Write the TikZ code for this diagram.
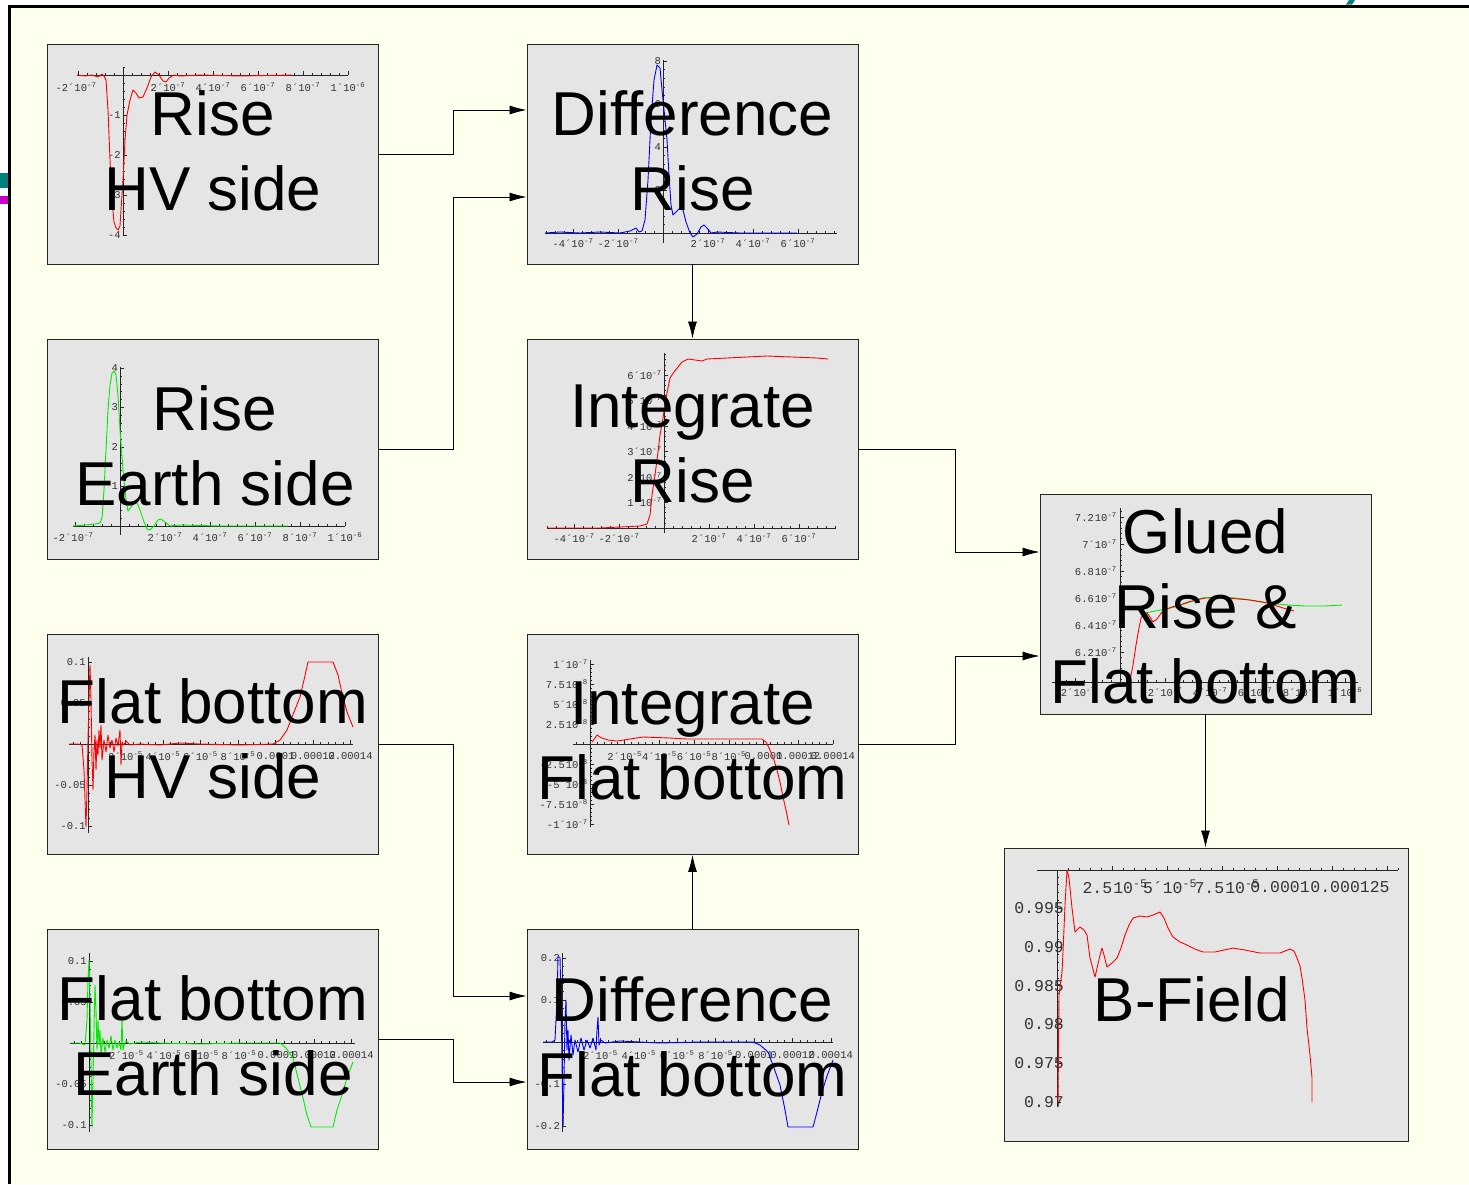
\documentclass[tikz,border=0pt]{standalone}
\usepackage{fontspec}
\setmainfont{Liberation Sans}
\newfontfamily\tickfont{Liberation Mono}
\usetikzlibrary{arrows.meta}
\definecolor{cream}{RGB}{255,255,238}
\definecolor{boxgray}{RGB}{229,229,229}
\definecolor{dteal}{RGB}{0,128,128}
\definecolor{dmag}{RGB}{204,0,204}
\definecolor{cred}{RGB}{255,0,0}
\definecolor{cgreen}{RGB}{0,235,0}
\definecolor{cblue}{RGB}{0,0,255}
\newcommand\sci[2]{#1´10\textsuperscript{#2}}
\newcommand\scd[2]{#1\kern1pt 10\textsuperscript{#2}}
\begin{document}
\begin{tikzpicture}[x=1pt,y=-1pt,
  box/.style={draw=black!85, line width=0.9pt, fill=boxgray, inner sep=0pt, minimum width=331pt, minimum height=220pt},
  big/.style={font=\fontsize{62}{75}\selectfont, align=center, inner sep=0pt},
  arr/.style={-{Latex[length=17pt,width=9pt]}, line width=0.8pt},
  ax/.style={line width=0.8pt, black!85},
  tk/.style={line width=0.6pt, black!85},
  tl/.style={font=\tickfont\fontsize{10.5}{11}\selectfont, text=black!80, inner sep=0pt},
  tlb/.style={font=\tickfont\fontsize{16.5}{17}\selectfont, text=black!80, inner sep=0pt},
  crv/.style={line width=0.9pt, line join=round}]
\useasboundingbox (0,0) rectangle (1469,1184);
\fill[white] (0,0) rectangle (1469,1184);
\fill[cream] (9,6) rectangle (1469,1184);
\draw[line width=3pt, line join=miter] (9,1184) -- (9,6) -- (1469,6);
\fill[dteal] (0,173) rectangle (7.5,188);
\fill[dmag] (0,196) rectangle (7.5,204);
\fill[dteal] (1346,4.5) -- (1352,4.5) -- (1355,0) -- (1349,0) -- cycle;

% boxes
\node[box] (rhv) at (213,154) {};
\node[box] (drise) at (692.5,154) {};
\node[box] (rearth) at (213,449) {};
\node[box] (irise) at (692.5,449) {};
\node[box] (fhv) at (213,744.5) {};
\node[box] (iflat) at (692.5,744.5) {};
\node[box] (fearth) at (213,1039) {};
\node[box] (dflat) at (692.5,1039) {};
\node[box] (glued) at (1205.5,604) {};
\node[box, minimum width=404pt, minimum height=293pt] (bfield) at (1206,994.5) {};

% connectors
\draw[arr] (rhv.east) -- ++(74,0) |- ([yshift=44pt]drise.west);
\draw[arr] (rearth.east) -- ++(74,0) |- ([yshift=-43pt]drise.west);
\draw[arr] (drise.south) -- (irise.north);
\draw[arr] (irise.east) -- ++(97,0) |- ([yshift=52pt]glued.west);
\draw[arr] (iflat.east) -- ++(97,0) |- ([yshift=-52pt]glued.west);
\draw[arr] (glued.south) -- (glued.south |- bfield.north);
\draw[arr] (fhv.east) -- ++(74,0) |- ([yshift=43pt]dflat.west);
\draw[arr] (fearth.east) -- ++(74,0) |- ([yshift=-43pt]dflat.west);
\draw[arr] (dflat.north) -- (iflat.south);

% ---------- plot 1: Rise HV side
\draw[ax] (77,75) -- (348,75);
\draw[ax] (123,67) -- (123,236);
\foreach \x in {78,87,...,348} \draw[tk] (\x,75) -- ++(0,-2);
\foreach \x in {78,168,213,258,303,348} \draw[tk] (\x,75) -- ++(0,-4);
\foreach \y in {67,75,...,235} \draw[tk] (123,\y) -- ++(2,0);
\foreach \y in {115,155,195,235} \draw[tk] (123,\y) -- ++(4,0);
\node[tl] at (76,87) {\sci{-2}{-7}};
\node[tl] at (168,87) {\sci{2}{-7}};
\node[tl] at (213,87) {\sci{4}{-7}};
\node[tl] at (258,87) {\sci{6}{-7}};
\node[tl] at (303,87) {\sci{8}{-7}};
\node[tl] at (348,87) {\sci{1}{-6}};
\node[tl,anchor=east] at (121,115) {-1};
\node[tl,anchor=east] at (121,155) {-2};
\node[tl,anchor=east] at (121,195) {-3};
\node[tl,anchor=east] at (121,235) {-4};
\draw[crv,cred] plot coordinates {(77,75)(85,76)(92,75)(98,77)(102,74)(104,76)(106,80)(108,110)(110,160)(112,200)(114,222)(116,228)(118,230)(120,226)(121,210)(123,180)(125,140)(127,115)(130,100)(133,90)(136,93)(139,98)(143,97)(147,88)(151,77)(155,72)(159,75)(163,81)(166,82)(169,78)(174,75)(180,76)(200,75)(240,76)(292,75)};

% ---------- plot 2: Difference Rise
\draw[ax] (545,233) -- (837,233);
\draw[ax] (663,60) -- (663,243);
\foreach \x in {546,555,...,834} \draw[tk] (\x,233) -- ++(0,-2);
\foreach \x in {573,618,708,753,798} \draw[tk] (\x,233) -- ++(0,-4);
\foreach \y in {61,69.6,...,233} \draw[tk] (663,\y) -- ++(2,0);
\foreach \y in {61,104,147,190} \draw[tk] (663,\y) -- ++(4,0);
\node[tl] at (573,243) {\sci{-4}{-7}};
\node[tl] at (618,243) {\sci{-2}{-7}};
\node[tl] at (708,243) {\sci{2}{-7}};
\node[tl] at (753,243) {\sci{4}{-7}};
\node[tl] at (798,243) {\sci{6}{-7}};
\node[tl,anchor=east] at (661,61) {8};
\node[tl,anchor=east] at (661,104) {6};
\node[tl,anchor=east] at (661,147) {4};
\node[tl,anchor=east] at (661,190) {2};
\draw[crv,cblue] plot coordinates {(545,233)(560,232)(580,233)(600,232)(620,233)(630,231)(636,228)(639,232)(642,231)(645,220)(648,180)(651,120)(654,80)(657,65)(660,68)(662,90)(665,120)(667,140)(669,175)(671,205)(673,215)(676,212)(680,208)(683,210)(686,222)(690,233)(693,237)(697,234)(701,227)(704,225)(707,228)(711,233)(717,232)(740,233)(797,233)};

% ---------- plot 3: Rise Earth side
\draw[ax] (73,526) -- (345,526);
\draw[ax] (120,367) -- (120,535);
\foreach \x in {75,84,...,345} \draw[tk] (\x,526) -- ++(0,-2);
\foreach \x in {75,165,210,255,300,345} \draw[tk] (\x,526) -- ++(0,-4);
\foreach \y in {368,375.9,...,526} \draw[tk] (120,\y) -- ++(2,0);
\foreach \y in {368,407.5,447,486.5} \draw[tk] (120,\y) -- ++(4,0);
\node[tl] at (73,537) {\sci{-2}{-7}};
\node[tl] at (165,537) {\sci{2}{-7}};
\node[tl] at (210,537) {\sci{4}{-7}};
\node[tl] at (255,537) {\sci{6}{-7}};
\node[tl] at (300,537) {\sci{8}{-7}};
\node[tl] at (345,537) {\sci{1}{-6}};
\node[tl,anchor=east] at (118,368) {4};
\node[tl,anchor=east] at (118,407.5) {3};
\node[tl,anchor=east] at (118,447) {2};
\node[tl,anchor=east] at (118,486.5) {1};
\draw[crv,cgreen] plot coordinates {(73,526)(85,525)(95,524)(100,523)(102,518)(104,490)(106,450)(108,410)(110,385)(112,373)(114,371)(116,375)(118,395)(120,430)(123,470)(126,500)(128,511)(131,507)(134,503)(137,503)(140,510)(144,522)(147,529)(150,530)(154,526)(158,520)(161,519)(165,522)(170,526)(180,525)(220,526)(288,526)};

% ---------- plot 4: Integrate Rise
\draw[ax] (547,528) -- (836,528);
\draw[ax] (664,353) -- (664,533);
\foreach \x in {547,556,...,835} \draw[tk] (\x,528) -- ++(0,-2);
\foreach \x in {574,619,709,754,799} \draw[tk] (\x,528) -- ++(0,-4);
\foreach \y in {354.6,359.7,...,528} \draw[tk] (664,\y) -- ++(2,0);
\foreach \y in {375,400.5,426,451.5,477,502.5} \draw[tk] (664,\y) -- ++(4,0);
\node[tl] at (574,538) {\sci{-4}{-7}};
\node[tl] at (619,538) {\sci{-2}{-7}};
\node[tl] at (709,538) {\sci{2}{-7}};
\node[tl] at (754,538) {\sci{4}{-7}};
\node[tl] at (799,538) {\sci{6}{-7}};
\node[tl,anchor=east] at (662,375) {\sci{6}{-7}};
\node[tl,anchor=east] at (662,400.5) {\sci{5}{-7}};
\node[tl,anchor=east] at (662,426) {\sci{4}{-7}};
\node[tl,anchor=east] at (662,451.5) {\sci{3}{-7}};
\node[tl,anchor=east] at (662,477) {\sci{2}{-7}};
\node[tl,anchor=east] at (662,502.5) {\sci{1}{-7}};
\draw[crv,cred] plot coordinates {(547,528)(600,528)(620,527)(640,526)(647,524)(650,515)(652,495)(655,475)(658,452)(660,435)(663,418)(666,398)(670,378)(674,372)(678,367)(682,362)(688,359)(695,360)(702,361)(707,359)(727,358)(767,356)(817,358)(828,359)};

% ---------- plot 5: Flat bottom HV side
\draw[ax] (69,744) -- (353,744);
\draw[ax] (88,657) -- (88,833);
\foreach \x in {73,80.5,...,351} \draw[tk] (\x,744) -- ++(0,-2);
\foreach \x in {125.5,163,200.5,238,275.5,313,350.5} \draw[tk] (\x,744) -- ++(0,-4);
\foreach \y in {662,670.2,...,826.5} \draw[tk] (88,\y) -- ++(2,0);
\foreach \y in {662,703,785,826} \draw[tk] (88,\y) -- ++(4,0);
\node[tl] at (125.5,756) {\sci{2}{-5}};
\node[tl] at (163,756) {\sci{4}{-5}};
\node[tl] at (200.5,756) {\sci{6}{-5}};
\node[tl] at (238,756) {\sci{8}{-5}};
\node[tl] at (275.5,756) {0.0001};
\node[tl] at (313,756) {0.00012};
\node[tl] at (350.5,756) {0.00014};
\node[tl,anchor=east] at (86,662) {0.1};
\node[tl,anchor=east] at (86,703) {0.05};
\node[tl,anchor=east] at (86,785) {-0.05};
\node[tl,anchor=east] at (86,826) {-0.1};
\draw[crv,cred] plot coordinates {(69,744)(78,744)(82,745)(84,770)(85,800)(86,827)(87,790)(88,740)(89,700)(90,665)(91,700)(92,760)(93,790)(94,750)(95,735)(96,770)(97,740)(98,755)(99,730)(100,748)(101,725)(102,760)(104,740)(106,752)(108,735)(110,748)(112,740)(114,752)(116,738)(118,746)(120,730)(121,765)(122,742)(124,745)(126,741)(130,745)(140,744)(160,745)(180,743)(200,744)(240,745)(273,744)(280,740)(287,730)(294,712)(300,697)(304,680)(308,662)(333,662)(338,675)(342,693)(347,712)(353,727)};

% ---------- plot 6: Integrate Flat bottom
\draw[ax] (573,744) -- (833,744);
\draw[ax] (590,660) -- (590,827);
\foreach \x in {576.12,583.06,...,833} \draw[tk] (\x,744) -- ++(0,-2);
\foreach \x in {624.7,659.4,694.1,728.8,763.5,798.2,832.9} \draw[tk] (\x,744) -- ++(0,-4);
\foreach \y in {664,668,...,824} \draw[tk] (590,\y) -- ++(2,0);
\foreach \y in {664,684,704,724,764,784,804,824} \draw[tk] (590,\y) -- ++(4,0);
\node[tl] at (624.7,756) {\sci{2}{-5}};
\node[tl] at (659.4,756) {\sci{4}{-5}};
\node[tl] at (694.1,756) {\sci{6}{-5}};
\node[tl] at (728.8,756) {\sci{8}{-5}};
\node[tl] at (763.5,756) {0.0001};
\node[tl] at (798.2,756) {0.00012};
\node[tl] at (832.9,756) {0.00014};
\node[tl,anchor=east] at (588,664) {\sci{1}{-7}};
\node[tl,anchor=east] at (588,684) {\scd{7.5}{-8}};
\node[tl,anchor=east] at (588,704) {\sci{5}{-8}};
\node[tl,anchor=east] at (588,724) {\scd{2.5}{-8}};
\node[tl,anchor=east] at (588,764) {\scd{-2.5}{-8}};
\node[tl,anchor=east] at (588,784) {\sci{-5}{-8}};
\node[tl,anchor=east] at (588,804) {\scd{-7.5}{-8}};
\node[tl,anchor=east] at (588,824) {\sci{-1}{-7}};
\draw[crv,cred] plot coordinates {(592,742)(595,738)(597,735)(600,737)(602,738)(608,740)(617,741)(630,739)(643,737)(670,738)(687,739)(762,739)(766,742)(770,750)(774,760)(777,770)(780,782)(783,797)(786,810)(789,825)};

% ---------- plot 7: Flat bottom Earth side
\draw[ax] (70,1043) -- (355,1043);
\draw[ax] (89,953) -- (89,1132);
\foreach \x in {74,81.5,...,352} \draw[tk] (\x,1043) -- ++(0,-2);
\foreach \x in {126.5,164,201.5,239,276.5,314,351.5} \draw[tk] (\x,1043) -- ++(0,-4);
\foreach \y in {961,969.2,...,1125.5} \draw[tk] (89,\y) -- ++(2,0);
\foreach \y in {961,1002,1084,1125} \draw[tk] (89,\y) -- ++(4,0);
\node[tl] at (126.5,1055) {\sci{2}{-5}};
\node[tl] at (164,1055) {\sci{4}{-5}};
\node[tl] at (201.5,1055) {\sci{6}{-5}};
\node[tl] at (239,1055) {\sci{8}{-5}};
\node[tl] at (276.5,1055) {0.0001};
\node[tl] at (314,1055) {0.00012};
\node[tl] at (351.5,1055) {0.00014};
\node[tl,anchor=east] at (87,961) {0.1};
\node[tl,anchor=east] at (87,1002) {0.05};
\node[tl,anchor=east] at (87,1084) {-0.05};
\node[tl,anchor=east] at (87,1125) {-0.1};
\draw[crv,cgreen] plot coordinates {(70,1043)(80,1043)(85,1045)(87,1020)(88,980)(89,960)(90,1000)(91,1060)(92,1127)(93,1080)(94,1030)(95,985)(96,1010)(97,1050)(98,1020)(99,1045)(100,1030)(101,1055)(103,1038)(105,1052)(107,1040)(109,1048)(111,1036)(113,1050)(115,1040)(117,1048)(119,1042)(121,1050)(122,1020)(123,1050)(124,1045)(126,1041)(130,1044)(140,1042)(160,1043)(200,1044)(240,1043)(280,1043)(286,1048)(293,1058)(298,1078)(303,1098)(307,1115)(311,1127)(333,1127)(337,1110)(342,1095)(347,1078)(353,1062)};

% ---------- plot 8: Difference Flat bottom
\draw[ax] (543,1042) -- (833,1042);
\draw[ax] (562,953) -- (562,1132);
\foreach \x in {546.64,554.32,...,831} \draw[tk] (\x,1042) -- ++(0,-2);
\foreach \x in {600.4,638.8,677.2,715.6,754,792.4,830.8} \draw[tk] (\x,1042) -- ++(0,-4);
\foreach \y in {958,966.4,...,1126.5} \draw[tk] (562,\y) -- ++(2,0);
\foreach \y in {958,1000,1084,1126} \draw[tk] (562,\y) -- ++(4,0);
\node[tl] at (600.4,1055) {\sci{2}{-5}};
\node[tl] at (638.8,1055) {\sci{4}{-5}};
\node[tl] at (677.2,1055) {\sci{6}{-5}};
\node[tl] at (715.6,1055) {\sci{8}{-5}};
\node[tl] at (754,1055) {0.0001};
\node[tl] at (792.4,1055) {0.00012};
\node[tl] at (830.8,1055) {0.00014};
\node[tl,anchor=east] at (560,958) {0.2};
\node[tl,anchor=east] at (560,1000) {0.1};
\node[tl,anchor=east] at (560,1084) {-0.1};
\node[tl,anchor=east] at (560,1126) {-0.2};
\draw[crv,cblue] plot coordinates {(543,1042)(552,1042)(555,1040)(557,1000)(558,957)(560,957)(561,1000)(562,1060)(563,1127)(564,1080)(565,1020)(566,1000)(567,1050)(568,1030)(569,1060)(571,1035)(573,1055)(575,1040)(578,1052)(581,1038)(584,1050)(587,1040)(590,1048)(593,1038)(596,1050)(597,1030)(598,1017)(599,1045)(601,1040)(605,1043)(620,1041)(660,1043)(700,1042)(753,1042)(760,1045)(768,1052)(774,1068)(780,1085)(785,1110)(788,1127)(813,1127)(817,1112)(822,1092)(827,1076)(833,1060)};

% ---------- plot 9: Glued
\draw[ax] (1052,682) -- (1358,682);
\draw[ax] (1120,508) -- (1120,682);
\foreach \x in {1057,1066,...,1354} \draw[tk] (\x,682) -- ++(0,-2);
\foreach \x in {1075,1165,1210,1255,1300,1345} \draw[tk] (\x,682) -- ++(0,-4);
\foreach \y in {511.6,517,...,680} \draw[tk] (1120,\y) -- ++(2,0);
\foreach \y in {517,544,571,598,625,652} \draw[tk] (1120,\y) -- ++(4,0);
\node[tl] at (1075,692) {\sci{-2}{-7}};
\node[tl] at (1165,692) {\sci{2}{-7}};
\node[tl] at (1210,692) {\sci{4}{-7}};
\node[tl] at (1255,692) {\sci{6}{-7}};
\node[tl] at (1300,692) {\sci{8}{-7}};
\node[tl] at (1345,692) {\sci{1}{-6}};
\node[tl,anchor=east] at (1117,517) {\scd{7.2}{-7}};
\node[tl,anchor=east] at (1117,544) {\sci{7}{-7}};
\node[tl,anchor=east] at (1117,571) {\scd{6.8}{-7}};
\node[tl,anchor=east] at (1117,598) {\scd{6.6}{-7}};
\node[tl,anchor=east] at (1117,625) {\scd{6.4}{-7}};
\node[tl,anchor=east] at (1117,652) {\scd{6.2}{-7}};
\draw[crv,cgreen] plot coordinates {(1145,613)(1160,610)(1175,607)(1190,602)(1202,598)(1220,597)(1235,598)(1250,600)(1268,603)(1288,605)(1305,606)(1325,606)(1342,605)};
\draw[crv,cred] plot coordinates {(1130,680)(1133,665)(1136,645)(1139,628)(1141,618)(1144,614)(1147,613)(1150,617)(1153,622)(1157,619)(1162,612)(1167,609)(1172,607)(1180,605)(1188,602)(1205,598)(1228,598)(1250,600)(1268,603)(1283,608)(1294,611)};

% ---------- plot 10: B-Field
\draw[ax] (1037,870) -- (1398,870);
\draw[ax] (1057,870) -- (1057,1106);
\foreach \x in {1068,1079,...,1398} \draw[tk] (\x,870) -- ++(0,-2);
\foreach \x in {1112,1167,1222,1277,1332,1387} \draw[tk] (\x,870) -- ++(0,-4);
\foreach \y in {876.96,884.72,...,1102.5} \draw[tk] (1057,\y) -- ++(2,0);
\foreach \y in {908,946.8,985.6,1024.4,1063.2,1102} \draw[tk] (1057,\y) -- ++(4,0);
\node[tlb] at (1115,887) {\scd{2.5}{-5}};
\node[tlb] at (1170,887) {\sci{5}{-5}};
\node[tlb] at (1227,887) {\scd{7.5}{-5}};
\node[tlb] at (1280,887) {0.0001};
\node[tlb] at (1350,887) {0.000125};
\node[tlb,anchor=east] at (1064,908) {0.995};
\node[tlb,anchor=east] at (1064,946.8) {0.99};
\node[tlb,anchor=east] at (1064,985.6) {0.985};
\node[tlb,anchor=east] at (1064,1024.4) {0.98};
\node[tlb,anchor=east] at (1064,1063.2) {0.975};
\node[tlb,anchor=east] at (1064,1102) {0.97};
\draw[crv,cred] plot coordinates {(1058,1102)(1059,995)(1062,972)(1063,952)(1065,905)(1067,870)(1069,878)(1072,908)(1075,932)(1080,927)(1084,930)(1087,935)(1090,958)(1095,977)(1100,955)(1102,948)(1104,955)(1107,967)(1112,963)(1117,958)(1121,948)(1125,935)(1129,925)(1133,918)(1140,916)(1147,917)(1153,915)(1160,912)(1164,918)(1168,928)(1173,937)(1180,942)(1187,945)(1195,949)(1203,952)(1215,952)(1233,948)(1245,950)(1260,953)(1280,953)(1290,949)(1294,951)(1297,958)(1300,966)(1302,978)(1305,1000)(1307,1028)(1310,1055)(1312,1078)(1312,1102)};

% ---------- labels
\node[big] at ([yshift=3.4pt]rhv.center) {Rise\\HV side};
\node[big] at ([yshift=3.4pt]drise.center) {Difference\\Rise};
\node[big] at ([xshift=2pt,yshift=3.4pt]rearth.center) {Rise\\Earth side};
\node[big] at ([yshift=5.4pt]irise.center) {Integrate\\Rise};
\node[big] at ([yshift=5.9pt]fhv.center) {Flat bottom\\HV side};
\node[big] at ([yshift=3.9pt]iflat.center) {Integrate\\Flat bottom};
\node[big] at ([yshift=3.4pt]fearth.center) {Flat bottom\\Earth side};
\node[big] at ([yshift=1.7pt]dflat.center) {Difference\\Flat bottom};
\node[big] at ([yshift=-2pt]glued.center) {Glued\\Rise \&\\Flat bottom};
\node[big] at ([xshift=-14pt,yshift=-5.3pt]bfield.center) {B-Field};
\end{tikzpicture}
\end{document}
